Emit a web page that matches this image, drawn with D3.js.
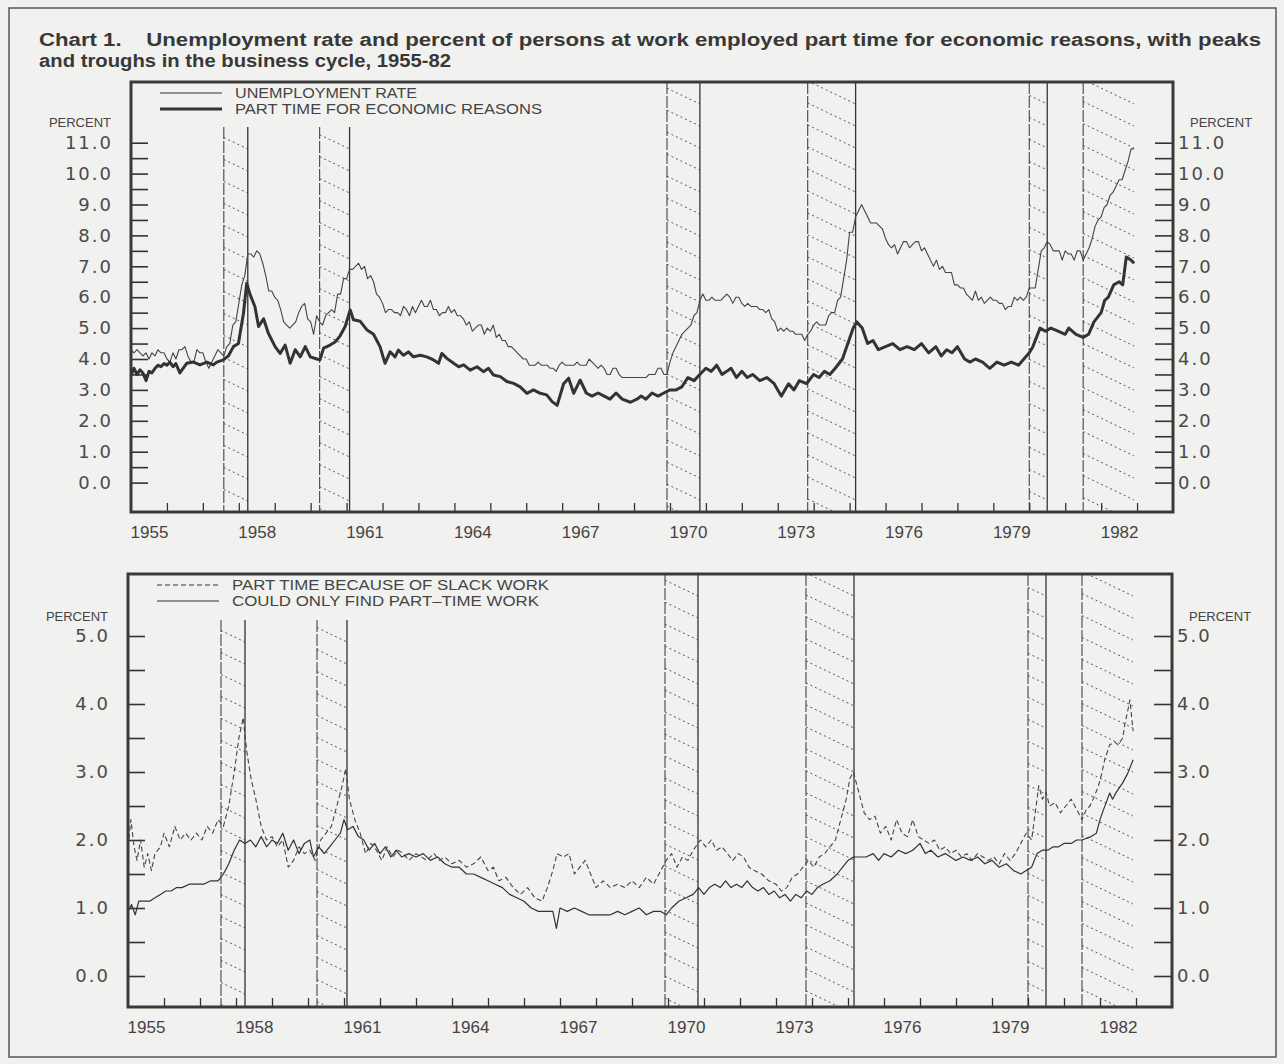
<!DOCTYPE html>
<html>
<head>
<meta charset="utf-8">
<script src="https://cdn.jsdelivr.net/npm/d3@7"></script>
<style>
body { margin: 0; background: #f1f1ef; }
svg { display: block; }
</style>
</head>
<body>
<script>
var width = 1284, height = 1064;

// monthly unemployment rate, Jan 1955 - Dec 1982
var unemploymentRate = [
  4.3, 4.2, 4.3, 4.2, 4.1, 4.2, 4.0, 4.2, 4.1, 4.3, 4.2, 4.2,
  4.0, 3.9, 4.2, 4.0, 4.3, 4.3, 4.4, 4.1, 3.9, 3.9, 4.3, 4.2,
  4.2, 3.9, 3.7, 3.9, 4.1, 4.3, 4.2, 4.1, 4.4, 4.5, 5.1, 5.2,
  5.8, 6.4, 6.7, 7.4, 7.4, 7.3, 7.5, 7.4, 7.1, 6.7, 6.2, 6.2,
  6.0, 5.9, 5.6, 5.2, 5.1, 5.0, 5.1, 5.2, 5.5, 5.7, 5.8, 5.3,
  5.2, 4.8, 5.4, 5.2, 5.1, 5.4, 5.5, 5.6, 5.5, 6.1, 6.1, 6.6,
  6.6, 6.9, 6.9, 7.0, 7.1, 6.9, 7.0, 6.6, 6.7, 6.5, 6.1, 6.0,
  5.8, 5.5, 5.6, 5.6, 5.5, 5.5, 5.4, 5.7, 5.6, 5.4, 5.7, 5.5,
  5.7, 5.9, 5.7, 5.7, 5.9, 5.6, 5.6, 5.4, 5.5, 5.5, 5.7, 5.5,
  5.6, 5.4, 5.4, 5.3, 5.1, 5.2, 4.9, 5.0, 5.1, 5.1, 4.8, 5.0,
  4.9, 5.1, 4.7, 4.8, 4.6, 4.6, 4.4, 4.4, 4.3, 4.2, 4.1, 4.0,
  4.0, 3.8, 3.8, 3.8, 3.9, 3.8, 3.8, 3.8, 3.7, 3.7, 3.6, 3.8,
  3.9, 3.8, 3.8, 3.8, 3.8, 3.9, 3.8, 3.8, 3.8, 4.0, 3.9, 3.8,
  3.7, 3.8, 3.7, 3.5, 3.5, 3.7, 3.7, 3.5, 3.4, 3.4, 3.4, 3.4,
  3.4, 3.4, 3.4, 3.4, 3.4, 3.5, 3.5, 3.5, 3.7, 3.7, 3.5, 3.5,
  3.9, 4.2, 4.4, 4.6, 4.8, 4.9, 5.0, 5.1, 5.4, 5.5, 5.9, 6.1,
  5.9, 5.9, 6.0, 5.9, 5.9, 5.9, 6.0, 6.1, 6.0, 5.8, 6.0, 6.0,
  5.8, 5.7, 5.8, 5.7, 5.7, 5.7, 5.6, 5.6, 5.5, 5.6, 5.3, 5.2,
  4.9, 5.0, 4.9, 5.0, 4.9, 4.9, 4.8, 4.8, 4.8, 4.6, 4.8, 4.9,
  5.1, 5.2, 5.1, 5.1, 5.1, 5.4, 5.5, 5.5, 5.9, 6.0, 6.6, 7.2,
  8.1, 8.1, 8.6, 8.8, 9.0, 8.8, 8.6, 8.4, 8.4, 8.4, 8.3, 8.2,
  7.9, 7.7, 7.6, 7.7, 7.4, 7.6, 7.8, 7.8, 7.6, 7.7, 7.8, 7.8,
  7.5, 7.6, 7.4, 7.2, 7.0, 7.2, 6.9, 7.0, 6.8, 6.8, 6.8, 6.4,
  6.4, 6.3, 6.3, 6.1, 6.0, 5.9, 6.2, 5.9, 6.0, 5.8, 5.9, 6.0,
  5.9, 5.9, 5.8, 5.8, 5.6, 5.7, 5.7, 6.0, 5.9, 6.0, 5.9, 6.0,
  6.3, 6.3, 6.3, 6.9, 7.5, 7.6, 7.8, 7.7, 7.5, 7.5, 7.5, 7.2,
  7.5, 7.4, 7.4, 7.2, 7.5, 7.5, 7.2, 7.4, 7.6, 7.9, 8.3, 8.5,
  8.6, 8.9, 9.0, 9.3, 9.4, 9.6, 9.8, 9.8, 10.1, 10.4, 10.8, 10.8
];

// [year, percent]
var partTimeEconomic = [
  [1955.0,3.45],[1955.08,3.7],[1955.17,3.5],[1955.25,3.65],[1955.33,3.55],[1955.42,3.3],[1955.5,3.6],
  [1955.58,3.55],[1955.67,3.7],[1955.75,3.8],[1955.83,3.75],[1955.92,3.85],[1956.0,3.8],[1956.08,3.9],
  [1956.17,3.75],[1956.25,3.85],[1956.36,3.55],[1956.55,3.86],[1956.74,3.9],[1956.92,3.81],[1957.11,3.9],
  [1957.29,3.81],[1957.39,3.9],[1957.57,3.97],[1957.71,4.1],[1957.85,4.4],[1957.99,4.5],[1958.13,5.48],
  [1958.22,6.45],[1958.31,6.1],[1958.45,5.69],[1958.55,5.05],[1958.69,5.3],[1958.82,4.84],[1959.01,4.4],
  [1959.15,4.18],[1959.29,4.45],[1959.43,3.86],[1959.57,4.3],[1959.71,4.07],[1959.85,4.4],[1959.99,4.07],
  [1960.17,4.0],[1960.26,3.97],[1960.36,4.35],[1960.54,4.45],[1960.68,4.55],[1960.82,4.75],[1960.96,5.05],
  [1961.1,5.59],[1961.19,5.27],[1961.38,5.22],[1961.56,4.95],[1961.75,4.8],[1961.93,4.4],[1962.07,3.86],
  [1962.21,4.23],[1962.35,4.07],[1962.44,4.29],[1962.58,4.12],[1962.72,4.23],[1962.86,4.07],[1963.05,4.12],
  [1963.23,4.07],[1963.42,3.97],[1963.56,3.86],[1963.65,4.18],[1963.79,4.02],[1963.98,3.86],[1964.12,3.75],
  [1964.26,3.81],[1964.44,3.64],[1964.63,3.75],[1964.81,3.59],[1964.95,3.7],[1965.09,3.48],[1965.28,3.43],
  [1965.46,3.27],[1965.65,3.21],[1965.83,3.1],[1966.02,2.89],[1966.2,3.0],[1966.39,2.89],[1966.57,2.84],
  [1966.72,2.62],[1966.86,2.5],[1967.04,3.2],[1967.18,3.38],[1967.32,2.89],[1967.5,3.32],[1967.67,2.9],
  [1967.83,2.8],[1968.0,2.9],[1968.17,2.8],[1968.33,2.7],[1968.5,2.9],[1968.67,2.7],[1968.9,2.6],
  [1969.08,2.7],[1969.2,2.8],[1969.33,2.7],[1969.5,2.9],[1969.67,2.8],[1969.83,2.9],[1970.0,3.0],
  [1970.17,3.0],[1970.33,3.1],[1970.5,3.4],[1970.67,3.3],[1970.83,3.5],[1971.0,3.7],[1971.15,3.6],
  [1971.3,3.8],[1971.45,3.5],[1971.58,3.6],[1971.7,3.7],[1971.85,3.4],[1972.0,3.6],[1972.15,3.4],
  [1972.3,3.5],[1972.5,3.3],[1972.7,3.4],[1972.9,3.2],[1973.0,3.0],[1973.1,2.8],[1973.3,3.2],
  [1973.45,3.0],[1973.6,3.3],[1973.8,3.2],[1974.0,3.5],[1974.15,3.4],[1974.3,3.6],[1974.45,3.5],
  [1974.6,3.7],[1974.8,4.0],[1974.95,4.5],[1975.1,5.0],[1975.2,5.2],[1975.35,5.0],[1975.5,4.5],
  [1975.65,4.6],[1975.8,4.3],[1976.0,4.4],[1976.2,4.5],[1976.4,4.3],[1976.6,4.4],[1976.8,4.3],
  [1977.0,4.5],[1977.2,4.2],[1977.4,4.4],[1977.55,4.1],[1977.7,4.3],[1977.85,4.2],[1978.0,4.4],
  [1978.2,4.0],[1978.35,3.9],[1978.5,4.0],[1978.7,3.9],[1978.9,3.7],[1979.1,3.9],[1979.3,3.8],
  [1979.5,3.9],[1979.7,3.8],[1979.85,4.0],[1980.0,4.2],[1980.1,4.4],[1980.3,5.0],[1980.45,4.9],
  [1980.6,5.0],[1980.8,4.9],[1981.0,4.8],[1981.1,5.0],[1981.3,4.8],[1981.5,4.7],[1981.65,4.8],
  [1981.8,5.2],[1982.0,5.5],[1982.1,5.9],[1982.2,6.0],[1982.35,6.4],[1982.5,6.5],[1982.6,6.4],
  [1982.7,7.3],[1982.83,7.2],[1982.92,7.1]
];

var slackWork = [
  [1955.0,1.9],[1955.08,2.3],[1955.17,1.9],[1955.25,1.7],[1955.35,2.0],[1955.45,1.6],[1955.55,1.8],
  [1955.65,1.55],[1955.75,1.8],[1955.9,1.9],[1956.0,2.1],[1956.15,1.9],[1956.3,2.2],[1956.45,2.0],
  [1956.6,2.1],[1956.75,2.0],[1956.9,2.1],[1957.05,2.0],[1957.2,2.2],[1957.35,2.1],[1957.5,2.3],
  [1957.65,2.2],[1957.8,2.5],[1957.95,3.0],[1958.08,3.5],[1958.2,3.8],[1958.3,3.3],[1958.42,2.9],
  [1958.55,2.6],[1958.7,2.2],[1958.85,2.0],[1959.0,2.05],[1959.15,1.9],[1959.3,2.0],[1959.45,1.6],
  [1959.6,1.7],[1959.75,1.9],[1959.9,1.8],[1960.05,1.85],[1960.2,1.7],[1960.35,2.0],[1960.5,2.1],
  [1960.65,2.2],[1960.8,2.5],[1960.95,2.8],[1961.05,3.05],[1961.15,2.6],[1961.3,2.3],[1961.45,2.1],
  [1961.6,1.8],[1961.75,1.95],[1961.9,1.85],[1962.05,1.7],[1962.2,1.9],[1962.35,1.75],[1962.5,1.85],
  [1962.65,1.8],[1962.8,1.7],[1963.0,1.8],[1963.15,1.75],[1963.3,1.7],[1963.5,1.8],[1963.65,1.7],
  [1963.8,1.75],[1964.0,1.65],[1964.2,1.7],[1964.4,1.6],[1964.6,1.65],[1964.8,1.75],[1965.0,1.55],
  [1965.15,1.6],[1965.3,1.4],[1965.5,1.45],[1965.7,1.3],[1965.9,1.2],[1966.1,1.3],[1966.3,1.15],
  [1966.5,1.1],[1966.65,1.3],[1966.8,1.55],[1966.92,1.8],[1967.1,1.75],[1967.25,1.8],[1967.4,1.5],
  [1967.55,1.6],[1967.7,1.7],[1967.85,1.5],[1968.0,1.3],[1968.2,1.4],[1968.4,1.3],[1968.6,1.35],
  [1968.8,1.3],[1969.0,1.4],[1969.2,1.3],[1969.4,1.45],[1969.6,1.35],[1969.8,1.55],[1969.95,1.7],
  [1970.1,1.8],[1970.25,1.6],[1970.4,1.75],[1970.55,1.7],[1970.7,1.85],[1970.9,2.0],[1971.05,1.9],
  [1971.2,2.0],[1971.35,1.85],[1971.5,1.9],[1971.65,1.8],[1971.8,1.7],[1971.95,1.8],[1972.1,1.75],
  [1972.25,1.6],[1972.4,1.55],[1972.6,1.5],[1972.8,1.4],[1973.0,1.35],[1973.15,1.25],[1973.3,1.3],
  [1973.45,1.45],[1973.6,1.5],[1973.75,1.6],[1973.9,1.7],[1974.05,1.6],[1974.2,1.75],[1974.35,1.8],
  [1974.5,1.9],[1974.65,2.0],[1974.8,2.3],[1974.95,2.6],[1975.05,2.9],[1975.15,3.0],[1975.3,2.7],
  [1975.45,2.4],[1975.6,2.3],[1975.75,2.35],[1975.9,2.1],[1976.05,2.2],[1976.2,2.0],[1976.35,2.3],
  [1976.5,2.1],[1976.65,2.05],[1976.8,2.3],[1976.95,2.05],[1977.1,2.0],[1977.25,1.95],[1977.4,2.0],
  [1977.55,1.85],[1977.7,1.9],[1977.85,1.8],[1978.0,1.85],[1978.15,1.75],[1978.3,1.8],[1978.45,1.7],
  [1978.6,1.8],[1978.75,1.75],[1978.9,1.7],[1979.05,1.75],[1979.2,1.65],[1979.35,1.8],[1979.5,1.7],
  [1979.65,1.8],[1979.8,1.95],[1979.95,2.1],[1980.1,2.0],[1980.2,2.4],[1980.3,2.8],[1980.4,2.6],
  [1980.5,2.7],[1980.6,2.5],[1980.75,2.55],[1980.9,2.4],[1981.05,2.5],[1981.2,2.6],[1981.35,2.45],
  [1981.5,2.3],[1981.62,2.45],[1981.72,2.5],[1981.8,2.59],[1981.95,2.78],[1982.05,2.98],[1982.13,3.18],
  [1982.27,3.4],[1982.41,3.44],[1982.5,3.4],[1982.63,3.5],[1982.69,3.7],[1982.77,3.9],[1982.83,4.06],
  [1982.92,3.6]
];

var couldOnlyFind = [
  [1955.0,0.95],[1955.1,1.05],[1955.2,0.9],[1955.3,1.1],[1955.45,1.1],[1955.6,1.1],[1955.75,1.15],
  [1955.9,1.2],[1956.05,1.25],[1956.2,1.25],[1956.35,1.3],[1956.5,1.3],[1956.7,1.35],[1956.9,1.35],
  [1957.1,1.35],[1957.3,1.4],[1957.5,1.4],[1957.65,1.5],[1957.8,1.65],[1957.95,1.85],[1958.1,2.0],
  [1958.25,1.95],[1958.4,2.0],[1958.55,1.9],[1958.7,2.05],[1958.85,1.9],[1959.0,2.0],[1959.15,1.95],
  [1959.3,2.1],[1959.45,1.85],[1959.6,2.0],[1959.75,1.8],[1959.9,1.95],[1960.05,2.0],[1960.15,1.75],
  [1960.3,1.9],[1960.45,1.8],[1960.6,1.9],[1960.75,2.0],[1960.9,2.1],[1961.0,2.3],[1961.1,2.15],
  [1961.25,2.2],[1961.4,2.05],[1961.55,2.0],[1961.7,1.85],[1961.85,1.95],[1962.0,1.8],[1962.15,1.9],
  [1962.3,1.75],[1962.45,1.85],[1962.6,1.75],[1962.8,1.8],[1963.0,1.75],[1963.2,1.8],[1963.4,1.7],
  [1963.6,1.75],[1963.8,1.65],[1964.0,1.6],[1964.2,1.6],[1964.4,1.5],[1964.6,1.5],[1964.8,1.45],
  [1965.0,1.4],[1965.2,1.35],[1965.4,1.3],[1965.6,1.2],[1965.8,1.15],[1966.0,1.1],[1966.2,1.0],
  [1966.4,0.95],[1966.6,0.95],[1966.8,0.95],[1966.9,0.7],[1967.0,1.0],[1967.2,0.95],[1967.4,1.0],
  [1967.6,0.95],[1967.8,0.9],[1968.0,0.9],[1968.2,0.9],[1968.4,0.9],[1968.6,0.95],[1968.8,0.9],
  [1969.0,0.95],[1969.2,1.0],[1969.4,0.9],[1969.6,0.95],[1969.8,0.95],[1969.95,0.9],[1970.1,1.0],
  [1970.3,1.1],[1970.5,1.15],[1970.7,1.2],[1970.85,1.3],[1971.0,1.2],[1971.15,1.3],[1971.3,1.35],
  [1971.45,1.3],[1971.6,1.4],[1971.75,1.3],[1971.9,1.35],[1972.05,1.3],[1972.2,1.4],[1972.35,1.3],
  [1972.5,1.25],[1972.65,1.3],[1972.8,1.2],[1972.95,1.25],[1973.1,1.15],[1973.25,1.2],[1973.4,1.1],
  [1973.55,1.2],[1973.7,1.15],[1973.85,1.25],[1974.0,1.2],[1974.15,1.3],[1974.3,1.35],[1974.5,1.4],
  [1974.7,1.5],[1974.85,1.6],[1975.0,1.7],[1975.15,1.75],[1975.3,1.75],[1975.5,1.75],[1975.7,1.8],
  [1975.85,1.7],[1976.0,1.8],[1976.2,1.75],[1976.4,1.85],[1976.6,1.8],[1976.8,1.85],[1977.0,1.95],
  [1977.15,1.8],[1977.3,1.85],[1977.5,1.75],[1977.7,1.8],[1977.85,1.75],[1978.0,1.7],[1978.2,1.75],
  [1978.4,1.7],[1978.6,1.75],[1978.8,1.65],[1979.0,1.7],[1979.2,1.6],[1979.4,1.65],[1979.6,1.55],
  [1979.8,1.5],[1979.95,1.55],[1980.1,1.6],[1980.25,1.8],[1980.4,1.85],[1980.55,1.85],[1980.7,1.9],
  [1980.85,1.9],[1981.0,1.95],[1981.2,1.95],[1981.35,2.0],[1981.5,2.0],[1981.75,2.05],[1981.9,2.1],
  [1982.0,2.3],[1982.1,2.45],[1982.2,2.59],[1982.27,2.69],[1982.35,2.6],[1982.45,2.7],[1982.63,2.84],
  [1982.77,2.98],[1982.92,3.18]
];

// business cycle peaks and troughs (last trough not drawn)
var peaks   = [1957.583, 1960.25, 1969.917, 1973.833, 1980.0, 1981.5];
var troughs = [1958.25, 1961.083, 1970.833, 1975.167, 1980.5, 1982.917];
var yearLabels = [1955, 1958, 1961, 1964, 1967, 1970, 1973, 1976, 1979, 1982];
var topTicks = d3.range(0, 11.01, 0.5);
var bottomTicks = d3.range(0, 5.01, 0.5);

var svg = d3.select('body').append('svg')
  .attr('width', width)
  .attr('height', height)
  .style('font-family', '"Liberation Sans", Arial, sans-serif');

svg.append('rect')
  .attr('x', 9).attr('y', 8)
  .attr('width', 1267).attr('height', 1049)
  .attr('fill', '#f1f1ef')
  .attr('stroke', '#555').attr('stroke-width', 1.5);

// title (non-breaking spaces keep the gap after "Chart 1.")
var title = svg.append('g').attr('fill', '#383838')
  .style('font-weight', 'bold').style('font-size', '18px');
title.append('text').attr('x', 39).attr('y', 46)
  .attr('textLength', 1222).attr('lengthAdjust', 'spacingAndGlyphs')
  .text('Chart 1.\u00a0\u00a0\u00a0 Unemployment rate and percent of persons at work employed part time for economic reasons, with peaks');
title.append('text').attr('x', 39).attr('y', 66.5)
  .attr('textLength', 412).attr('lengthAdjust', 'spacingAndGlyphs')
  .text('and troughs in the business cycle, 1955-82');

var fmt = d3.format('.1f');

function panel(opt) {
  var g = svg.append('g');
  var x = d3.scaleLinear().domain([1955, 1984]).range([opt.left, opt.right]);
  var y = d3.scaleLinear().domain([0, opt.ymax]).range([opt.y0, opt.yTop]);

  // recession bands
  peaks.forEach(function(p, i) {
    var t = troughs[i];
    var x0 = x(p), x1 = x(t);
    var bt = i < 2 ? opt.bandTop : opt.top;
    var id = 'clip' + opt.name + i;
    g.append('clipPath').attr('id', id)
      .append('rect').attr('x', x0).attr('y', bt)
      .attr('width', x1 - x0).attr('height', opt.bottom - bt);
    var hg = g.append('g').attr('clip-path', 'url(#' + id + ')');
    var slope = 0.48, sp = 22;
    for (var yy = bt - (x1 - x0) * slope; yy < opt.bottom; yy += sp) {
      hg.append('line')
        .attr('x1', x0).attr('y1', yy)
        .attr('x2', x1).attr('y2', yy + (x1 - x0) * slope)
        .attr('stroke', '#555').attr('stroke-width', 1)
        .attr('stroke-dasharray', '2,3');
    }
    g.append('line').attr('x1', x0).attr('x2', x0).attr('y1', bt).attr('y2', opt.bottom)
      .attr('stroke', '#444').attr('stroke-width', 1.1).attr('stroke-dasharray', '12,2');
    if (i < peaks.length - 1) {
      g.append('line').attr('x1', x1).attr('x2', x1).attr('y1', bt).attr('y2', opt.bottom)
        .attr('stroke', '#333').attr('stroke-width', 1.3);
    }
  });

  // y axes, ticks inside the frame
  var axL = d3.axisLeft(y).tickValues(opt.ticks).tickSize(-17).tickPadding(18)
    .tickFormat(function(d) { return d % 1 === 0 ? fmt(d) : ''; });
  var axR = d3.axisRight(y).tickValues(opt.ticks).tickSize(-18).tickPadding(5)
    .tickFormat(function(d) { return d % 1 === 0 ? fmt(d) : ''; });
  [[axL, opt.left], [axR, opt.right]].forEach(function(a) {
    var ga = g.append('g').attr('transform', 'translate(' + a[1] + ',0)').call(a[0]);
    ga.select('.domain').remove();
    ga.selectAll('line').attr('stroke', '#333').attr('stroke-width', 1.6);
    ga.selectAll('text').attr('fill', '#4a4a4a')
      .style('font-family', '"DejaVu Sans", sans-serif')
      .style('font-size', '18px').style('letter-spacing', '2px');
  });

  // x axis ticks and year labels
  var axB = d3.axisBottom(x).tickValues(d3.range(1956, 1984)).tickSize(-9).tickFormat('');
  var gb = g.append('g').attr('transform', 'translate(0,' + opt.bottom + ')').call(axB);
  gb.select('.domain').remove();
  gb.selectAll('line').attr('stroke', '#333').attr('stroke-width', 1.3);
  var axLab = d3.axisBottom(x).tickValues(yearLabels.map(function(d) { return d + 0.5; }))
    .tickSize(0).tickPadding(14).tickFormat(function(d) { return Math.floor(d); });
  var gl = g.append('g').attr('transform', 'translate(0,' + opt.bottom + ')').call(axLab);
  gl.select('.domain').remove();
  gl.selectAll('text').attr('fill', '#444').style('font-size', '17px');

  ['left', 'right'].forEach(function(side) {
    g.append('text')
      .attr('x', side === 'left' ? opt.left - 20 : opt.right + 17)
      .attr('y', opt.percentY)
      .attr('text-anchor', side === 'left' ? 'end' : 'start')
      .attr('fill', '#444').style('font-size', '13px')
      .text('PERCENT');
  });

  // series
  var lineGen = d3.line().x(function(d) { return x(d[0]); }).y(function(d) { return y(d[1]); });
  opt.series.forEach(function(s) {
    g.append('path').datum(s.data)
      .attr('fill', 'none').attr('stroke', s.color)
      .attr('stroke-width', s.width)
      .attr('stroke-linejoin', 'round')
      .attr('stroke-dasharray', s.dash || null)
      .attr('d', lineGen);
  });

  // frame
  g.append('rect')
    .attr('x', opt.left).attr('y', opt.top)
    .attr('width', opt.right - opt.left).attr('height', opt.bottom - opt.top)
    .attr('fill', 'none').attr('stroke', '#3a3a3a').attr('stroke-width', 3);

  // legend
  opt.legend.forEach(function(l, i) {
    var ly = opt.top + 11 + i * 16;
    g.append('line').attr('x1', opt.left + 29).attr('x2', opt.left + 91)
      .attr('y1', ly).attr('y2', ly)
      .attr('stroke', '#333').attr('stroke-width', l.width)
      .attr('stroke-dasharray', l.dash || null);
    g.append('text').attr('x', opt.left + 104).attr('y', ly + 5)
      .attr('fill', '#444').style('font-size', '14px')
      .attr('textLength', l.len).attr('lengthAdjust', 'spacingAndGlyphs')
      .text(l.label);
  });
}

var unemploymentPoints = unemploymentRate.map(function(v, i) { return [1955 + i / 12, v]; });

panel({
  name: 'top', left: 131, right: 1173, top: 82, bottom: 512,
  ymax: 11, y0: 482.6, yTop: 142.7, ticks: topTicks, bandTop: 127, percentY: 127,
  series: [
    { data: unemploymentPoints, color: '#444', width: 1.1 },
    { data: partTimeEconomic, color: '#333', width: 3 }
  ],
  legend: [
    { label: 'UNEMPLOYMENT RATE', width: 1.1, len: 182 },
    { label: 'PART TIME FOR ECONOMIC REASONS', width: 3.2, len: 307 }
  ]
});

panel({
  name: 'bot', left: 128, right: 1172, top: 574, bottom: 1007,
  ymax: 5, y0: 976, yTop: 636, ticks: bottomTicks, bandTop: 620, percentY: 621,
  series: [
    { data: slackWork, color: '#444', width: 1.1, dash: '5,3' },
    { data: couldOnlyFind, color: '#333', width: 1.2 }
  ],
  legend: [
    { label: 'PART TIME BECAUSE OF SLACK WORK', width: 1.1, dash: '5,3', len: 317 },
    { label: 'COULD ONLY FIND PART\u2013TIME WORK', width: 1.1, len: 307 }
  ]
});
</script>
</body>
</html>
